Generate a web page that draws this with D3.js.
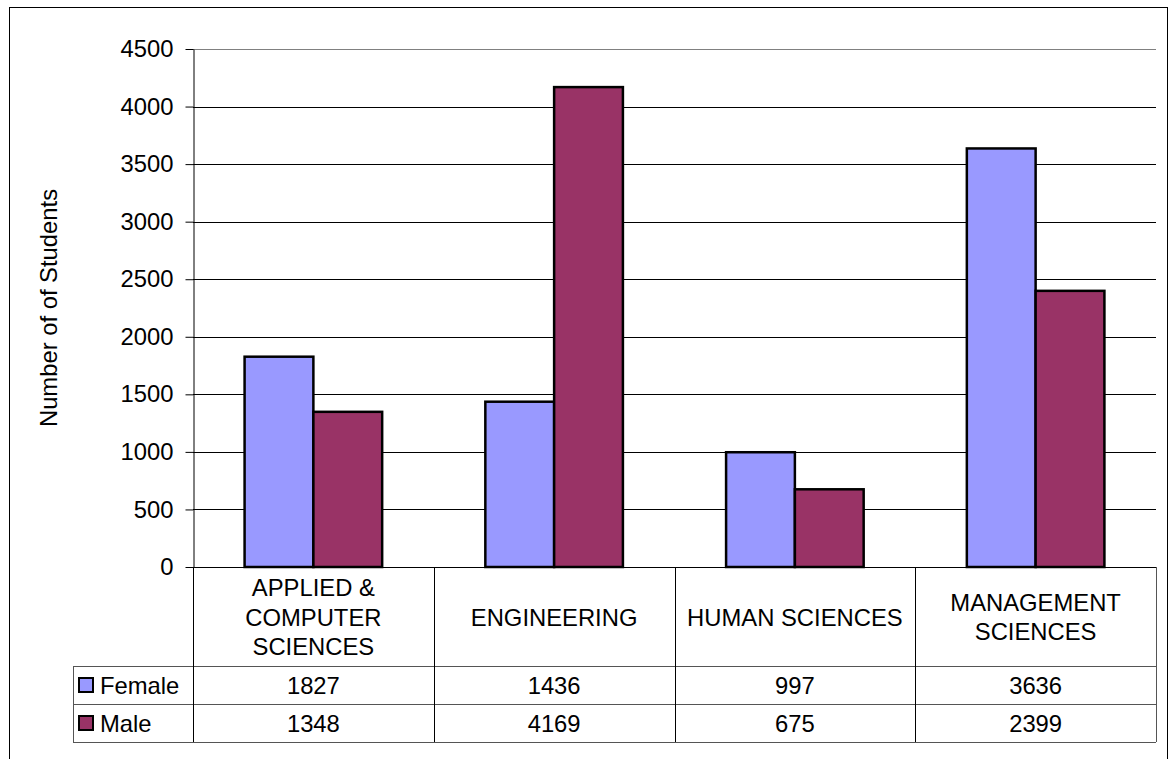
<!DOCTYPE html>
<html>
<head>
<meta charset="utf-8">
<script src="https://cdn.jsdelivr.net/npm/d3@7"></script>
<style>
  body { margin: 0; background: #fff; }
  text { font-family: "Liberation Sans", Arial, sans-serif; fill: #000; }
</style>
</head>
<body>
<div id="chart"></div>
<script>
const categories = ["APPLIED & COMPUTER SCIENCES", "ENGINEERING", "HUMAN SCIENCES", "MANAGEMENT SCIENCES"]
const seriesNames = ["Female", "Male"]
const female = [1827, 1436, 997, 3636]
const male = [1348, 4169, 675, 2399]
const yTicks = [0, 500, 1000, 1500, 2000, 2500, 3000, 3500, 4000, 4500]
const colors = ["#9999FF", "#993366"]

const W = 1169, H = 759
const PLOT = { LEFT: 193, RIGHT: 1156, TOP: 49, BOTTOM: 567 }
const HEADER_H = 99, ROW_H = 38, LEGEND_LEFT = 73
const FONT = 23.8

const series = [female, male]
const rows = seriesNames.map((name, i) => ({ name, values: series[i], color: colors[i] }))

const svg = d3.select("#chart").append("svg")
  .attr("width", W).attr("height", H)

// chart area border
svg.append("rect")
  .attr("x", 9.5).attr("y", 7.5)
  .attr("width", 1158).attr("height", 800)
  .attr("fill", "#fff").attr("stroke", "#000")

const x = d3.scaleBand()
  .domain(categories)
  .range([PLOT.LEFT, PLOT.RIGHT])

// gap width 150% -> each group holds two bars of width band/3.5
const x1 = d3.scaleBand()
  .domain(seriesNames)
  .range([0, x.bandwidth()])
  .paddingOuter(0.75)
  .paddingInner(0)

const y = d3.scaleLinear()
  .domain([0, 4500])
  .range([PLOT.BOTTOM, PLOT.TOP])

// gridlines
svg.append("g")
  .selectAll("line")
  .data(yTicks.filter(d => d > 0))
  .join("line")
  .attr("x1", PLOT.LEFT).attr("x2", PLOT.RIGHT)
  .attr("y1", d => Math.round(y(d)) + 0.5)
  .attr("y2", d => Math.round(y(d)) + 0.5)
  .attr("stroke", d => d === 4500 ? "#808080" : "#000")

// bars
svg.append("g")
  .selectAll("g")
  .data(rows)
  .join("g")
  .attr("fill", d => d.color)
  .selectAll("rect")
  .data(d => d.values.map((v, i) => ({ name: d.name, cat: categories[i], value: v })))
  .join("rect")
  .attr("x", d => x(d.cat) + x1(d.name))
  .attr("y", d => y(d.value))
  .attr("width", x1.bandwidth())
  .attr("height", d => y(0) - y(d.value))
  .attr("stroke", "#000")
  .attr("stroke-width", 2.5)

// y axis
const yAxis = svg.append("g")
  .attr("transform", `translate(${PLOT.LEFT + 0.5},0)`)
  .call(d3.axisLeft(y).tickValues(yTicks).tickFormat(d3.format("d"))
    .tickSize(8).tickPadding(12).tickSizeOuter(0))
yAxis.select(".domain").attr("stroke", "#000")
yAxis.selectAll(".tick line").attr("stroke", "#000")
yAxis.selectAll(".tick text")
  .style("font-size", FONT + "px")
  .attr("fill", "#000")

svg.append("text")
  .attr("transform", `translate(48,${(PLOT.TOP + PLOT.BOTTOM) / 2}) rotate(-90)`)
  .attr("text-anchor", "middle")
  .attr("dominant-baseline", "central")
  .style("font-size", FONT + "px")
  .text("Number of of Students")

// data table
const table = svg.append("g")
const headTop = PLOT.BOTTOM
const rowTop = headTop + HEADER_H
const tableBottom = rowTop + ROW_H * rows.length

// horizontal lines
table.append("line")
  .attr("x1", PLOT.LEFT).attr("x2", PLOT.RIGHT)
  .attr("y1", headTop + 0.5).attr("y2", headTop + 0.5)
  .attr("stroke", "#000")
table.selectAll(".hline")
  .data(d3.range(rows.length + 1))
  .join("line")
  .attr("x1", LEGEND_LEFT).attr("x2", PLOT.RIGHT)
  .attr("y1", i => rowTop + i * ROW_H + 0.5)
  .attr("y2", i => rowTop + i * ROW_H + 0.5)
  .attr("stroke", "#555")

// vertical lines
const colEdges = categories.map(c => x(c)).concat([PLOT.RIGHT])
table.selectAll(".vline")
  .data(colEdges)
  .join("line")
  .attr("x1", d => Math.round(d) + 0.5).attr("x2", d => Math.round(d) + 0.5)
  .attr("y1", headTop).attr("y2", tableBottom)
  .attr("stroke", (d, i) => i === colEdges.length - 1 ? "#555" : "#000")
table.append("line")
  .attr("x1", LEGEND_LEFT + 0.5).attr("x2", LEGEND_LEFT + 0.5)
  .attr("y1", rowTop).attr("y2", tableBottom)
  .attr("stroke", "#555")

// category headers, wrapped to column width
const LINE_H = 29.5
const headers = table.selectAll(".head")
  .data(categories)
  .join("text")
  .attr("text-anchor", "middle")
  .style("font-size", FONT + "px")

headers.each(function (d) {
  const t = d3.select(this)
  const words = d.split(" ")
  const maxW = x.bandwidth() - 10
  const lines = []
  let line = []
  const probe = t.append("tspan")
  words.forEach(w => {
    const test = line.concat([w]).join(" ")
    probe.text(test)
    if (line.length && probe.node().getComputedTextLength() > maxW) {
      lines.push(line.join(" "))
      line = [w]
    } else {
      line.push(w)
    }
  })
  lines.push(line.join(" "))
  probe.remove()
  const cx = x(d) + x.bandwidth() / 2
  const cy = headTop + HEADER_H / 2 + 0.5
  lines.forEach((l, i) => {
    t.append("tspan")
      .attr("x", cx)
      .attr("y", cy + (i - (lines.length - 1) / 2) * LINE_H)
      .attr("dy", "0.36em")
      .text(l)
  })
})

// value rows
const rowG = table.selectAll(".row")
  .data(rows)
  .join("g")
  .attr("transform", (d, i) => `translate(0,${rowTop + i * ROW_H + ROW_H / 2})`)

rowG.append("rect")
  .attr("x", LEGEND_LEFT + 6).attr("y", -7)
  .attr("width", 14).attr("height", 14)
  .attr("fill", d => d.color)
  .attr("stroke", "#000")
  .attr("stroke-width", 2)

rowG.append("text")
  .attr("x", LEGEND_LEFT + 27)
  .attr("dy", "0.36em")
  .style("font-size", FONT + "px")
  .text(d => d.name)

rowG.selectAll(".val")
  .data(d => d.values)
  .join("text")
  .attr("x", (v, i) => x(categories[i]) + x.bandwidth() / 2)
  .attr("dy", "0.36em")
  .attr("text-anchor", "middle")
  .style("font-size", FONT + "px")
  .text(v => v)
</script>
</body>
</html>
